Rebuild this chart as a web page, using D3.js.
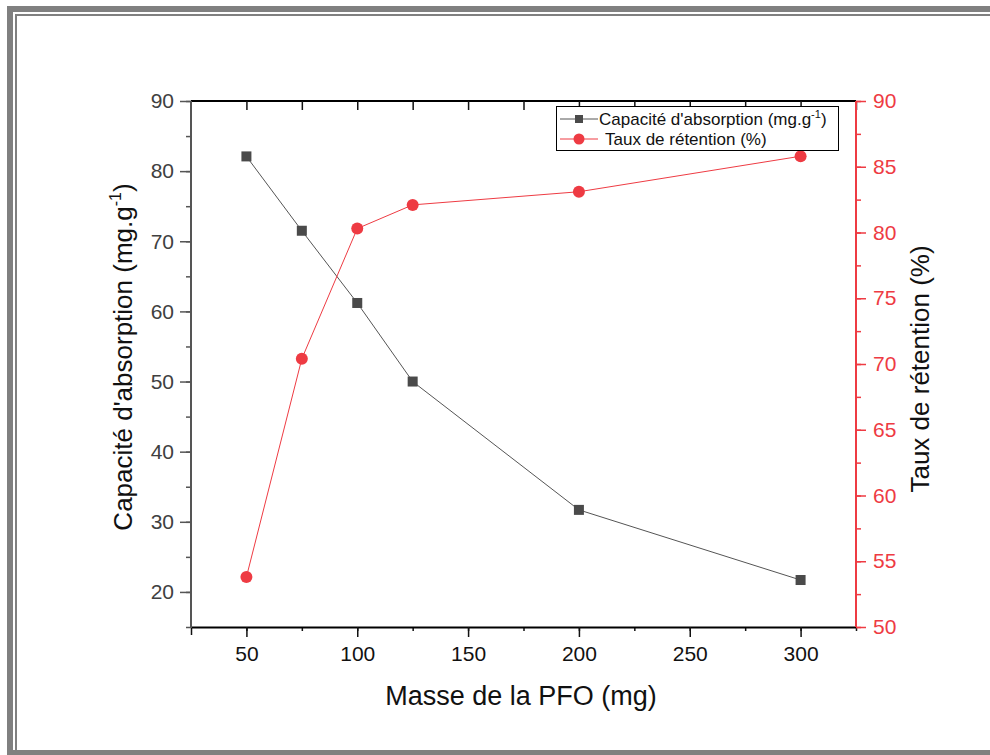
<!DOCTYPE html>
<html>
<head>
<meta charset="utf-8">
<script src="https://cdn.jsdelivr.net/npm/d3@7"></script>
<style>
  html, body { margin: 0; padding: 0; background: #fff; }
  svg { display: block; font-family: "Liberation Sans", Arial, sans-serif; }
</style>
</head>
<body>
<svg id="chart" width="990" height="755"></svg>
<script>
const masses = [50, 75, 100, 125, 200, 300];
const capacite = [82.1, 71.5, 61.2, 50.0, 31.7, 21.7];
const retention = [53.8, 70.4, 80.3, 82.1, 83.1, 85.8];
const xTicks = [50, 100, 150, 200, 250, 300];
const yLeftTicks = [20, 30, 40, 50, 60, 70, 80, 90];
const yRightTicks = [50, 55, 60, 65, 70, 75, 80, 85, 90];

const svg = d3.select("#chart");
const RED = "#ee3b43";
const GRAY = "#4a4a4a";
const TICKFS = 21;

// frame
svg.append("rect").attr("x", 10).attr("y", 9).attr("width", 1000).attr("height", 1000)
  .attr("fill", "none").attr("stroke", "#808080").attr("stroke-width", 6);
svg.append("rect").attr("x", 16).attr("y", 15).attr("width", 1000).attr("height", 1000)
  .attr("fill", "none").attr("stroke", "#808080").attr("stroke-width", 2);
svg.append("rect").attr("x", 0).attr("y", 750).attr("width", 990).attr("height", 10).attr("fill", "#808080");
svg.append("rect").attr("x", 0).attr("y", 0).attr("width", 7).attr("height", 755).attr("fill", "#fff");
svg.append("rect").attr("x", 0).attr("y", 0).attr("width", 990).attr("height", 6).attr("fill", "#fff");

const L = 191, R = 856, T = 101, B = 627;
const x = d3.scaleLinear().domain([25, 325]).range([L, R]);
const yL = d3.scaleLinear().domain([15, 90]).range([B, T]);
const yR = d3.scaleLinear().domain([50, 90]).range([B, T]);

// bottom axis
const gx = svg.append("g").attr("transform", `translate(0,${B})`);
gx.call(d3.axisBottom(x).tickValues(d3.range(25, 326, 25)).tickSize(4).tickFormat(""));
gx.call(g => g.select(".domain").remove());
const gx2 = svg.append("g").attr("transform", `translate(0,${B})`)
  .call(d3.axisBottom(x).tickValues(xTicks).tickSize(10).tickPadding(9).tickFormat(d3.format("d")));
gx2.select(".domain").attr("stroke", "#000").attr("stroke-width", 2).attr("d", `M${L},0.5H${R}`);
[gx, gx2].forEach(g => g.selectAll("line").attr("stroke", "#111").attr("stroke-width", 1.5));
gx2.selectAll("text").attr("font-size", TICKFS).attr("fill", "#111").attr("font-family", "Liberation Sans, Arial");
gx.selectAll(".tick").filter(d => d === 25).select("line").attr("y2", 8);

// top axis (ticks inward)
const gt = svg.append("g").attr("transform", `translate(0,${T})`)
  .call(d3.axisTop(x).tickValues(d3.range(50, 326, 25)).tickSize(-9).tickFormat(""));
gt.select(".domain").attr("stroke", "#000").attr("stroke-width", 2).attr("d", `M${L},0H${R}`);
gt.selectAll("line").attr("stroke", "#111").attr("stroke-width", 1.5);

// left axis
const glm = svg.append("g").attr("transform", `translate(${L},0)`)
  .call(d3.axisLeft(yL).tickValues(d3.range(15, 91, 5)).tickSize(5).tickFormat(""));
glm.select(".domain").remove();
const gl = svg.append("g").attr("transform", `translate(${L},0)`)
  .call(d3.axisLeft(yL).tickValues(yLeftTicks).tickSize(11).tickPadding(6).tickFormat(d3.format("d")));
gl.select(".domain").attr("stroke", "#555").attr("stroke-width", 2).attr("d", `M0,${T}V${B+1}`);
[glm, gl].forEach(g => g.selectAll("line").attr("stroke", "#555").attr("stroke-width", 1.5));
gl.selectAll("text").attr("font-size", TICKFS).attr("fill", "#404040").attr("font-family", "Liberation Sans, Arial");

// right axis
const grm = svg.append("g").attr("transform", `translate(${R},0)`)
  .call(d3.axisRight(yR).tickValues(d3.range(50, 90.1, 2.5)).tickSize(5).tickFormat(""));
grm.select(".domain").remove();
const gr = svg.append("g").attr("transform", `translate(${R},0)`)
  .call(d3.axisRight(yR).tickValues(yRightTicks).tickSize(10).tickPadding(7).tickFormat(d3.format("d")));
gr.select(".domain").attr("stroke", RED).attr("stroke-width", 2).attr("d", `M0,${T}V${B}`);
[grm, gr].forEach(g => g.selectAll("line").attr("stroke", RED).attr("stroke-width", 1.5));
gr.selectAll("text").attr("font-size", TICKFS).attr("fill", RED).attr("font-family", "Liberation Sans, Arial");

// series lines
const data = masses.map((m, i) => ({ m, c: capacite[i], r: retention[i] }));
svg.append("path").datum(data)
  .attr("d", d3.line().x(d => x(d.m)).y(d => yL(d.c)))
  .attr("fill", "none").attr("stroke", "#555").attr("stroke-width", 1);
svg.append("path").datum(data)
  .attr("d", d3.line().x(d => x(d.m)).y(d => yR(d.r)))
  .attr("fill", "none").attr("stroke", RED).attr("stroke-width", 1);

const sq = 10;
svg.selectAll(".sq").data(data).enter().append("rect")
  .attr("x", d => x(d.m) - sq / 2).attr("y", d => yL(d.c) - sq / 2)
  .attr("width", sq).attr("height", sq).attr("fill", GRAY);
svg.selectAll(".ci").data(data).enter().append("circle")
  .attr("cx", d => x(d.m)).attr("cy", d => yR(d.r)).attr("r", 6).attr("fill", RED);

// legend
const lg = svg.append("g");
lg.append("rect").attr("x", 556.5).attr("y", 106.5).attr("width", 282).attr("height", 44)
  .attr("fill", "#fff").attr("stroke", "#000").attr("stroke-width", 1);
lg.append("line").attr("x1", 560).attr("x2", 598).attr("y1", 119).attr("y2", 119).attr("stroke", "#555");
lg.append("rect").attr("x", 575).attr("y", 115).attr("width", 8).attr("height", 8).attr("fill", GRAY);
const t1 = lg.append("text").attr("x", 599).attr("y", 125).attr("font-size", 17).attr("fill", "#111");
t1.append("tspan").text("Capacité d'absorption (mg.g");
t1.append("tspan").attr("font-size", 11).attr("dy", -7).text("-1");
t1.append("tspan").attr("dy", 7).text(")");
lg.append("line").attr("x1", 560).attr("x2", 598).attr("y1", 139).attr("y2", 139).attr("stroke", RED);
lg.append("circle").attr("cx", 579).attr("cy", 139).attr("r", 5.5).attr("fill", RED);
lg.append("text").attr("x", 605).attr("y", 145).attr("font-size", 17).attr("fill", "#111")
  .text("Taux de rétention (%)");

// axis titles
svg.append("text").attr("x", 521).attr("y", 705).attr("text-anchor", "middle")
  .attr("font-size", 27).attr("fill", "#111").text("Masse de la PFO (mg)");

const lt = svg.append("text").attr("transform", "translate(132,357) rotate(-90)")
  .attr("text-anchor", "middle").attr("font-size", 26).attr("fill", "#111");
lt.append("tspan").text("Capacité d'absorption (mg.g");
lt.append("tspan").attr("font-size", 16).attr("dy", -11).text("-1");
lt.append("tspan").attr("dy", 11).text(")");

svg.append("text").attr("transform", "translate(929,369) rotate(-90)")
  .attr("text-anchor", "middle").attr("font-size", 26).attr("fill", "#111")
  .text("Taux de rétention (%)");
</script>
</body>
</html>
